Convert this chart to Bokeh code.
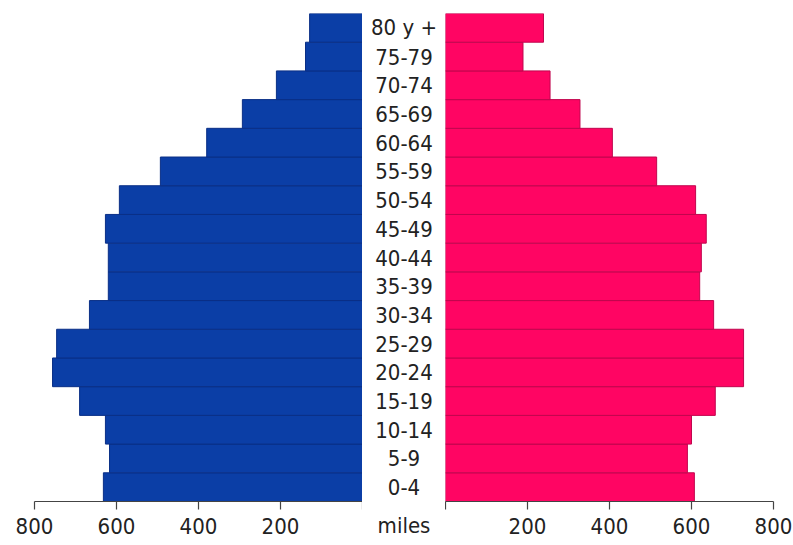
from bokeh.plotting import figure
from bokeh.layouts import row
from bokeh.models import Range1d, FactorRange, FixedTicker, ColumnDataSource
from bokeh.core.properties import value
from bokeh.embed import file_html
from bokeh.resources import INLINE

ages = ["0-4", "5-9", "10-14", "15-19", "20-24", "25-29", "30-34", "35-39",
        "40-44", "45-49", "50-54", "55-59", "60-64", "65-69", "70-74", "75-79", "80 y +"]
male = [632, 617, 627, 690, 756, 746, 666, 620, 620, 627, 593, 493, 380, 293, 210, 139, 129]
female = [607, 590, 600, 658, 727, 727, 654, 620, 624, 636, 610, 515, 407, 328, 255, 189, 239]
ticks = [0, 200, 400, 600, 800]
unit_label = "miles"

FONT = "DejaVu Sans Condensed"
FS = "22px"
H = 545
TOP = 13
BOTTOM = 44

src = ColumnDataSource(dict(age=ages, male=male, female=female))


def style_axis(p, standoff):
    ax = p.xaxis[0]
    ax.axis_line_color = "#444444"
    ax.axis_line_width = 1.2
    ax.major_tick_line_color = "#444444"
    ax.major_tick_line_width = 1.2
    ax.major_tick_out = 8
    ax.major_tick_in = 0
    ax.minor_tick_line_color = None
    ax.major_label_standoff = standoff
    ax.major_label_text_font = FONT
    ax.major_label_text_font_size = FS
    ax.major_label_text_color = "#222222"
    p.xgrid.visible = False
    p.ygrid.visible = False
    p.outline_line_color = None
    p.background_fill_color = "white"
    p.border_fill_color = "white"


left = figure(width=34 + 328, height=H, x_range=Range1d(800, 0),
              y_range=FactorRange(*ages, range_padding=0), y_axis_location=None,
              output_backend="svg", toolbar_location=None,
              min_border_left=34, min_border_right=0, min_border_top=TOP,
              min_border_bottom=BOTTOM)
left.hbar(y="age", right="male", left=0, height=1.0, source=src,
          fill_color="#0b3ea6", line_color="#0a2f86", line_width=1)
left.xaxis.ticker = FixedTicker(ticks=ticks)
left.xaxis.major_label_overrides = {0: ""}
style_axis(left, 8)

mid = figure(width=83, height=H, x_range=Range1d(0, 1),
             y_range=FactorRange(*ages, range_padding=0), y_axis_location=None,
             output_backend="svg", toolbar_location=None,
             min_border_left=0, min_border_right=0, min_border_top=TOP,
             min_border_bottom=BOTTOM)
mid.text(x=0.5, y="age", text="age", source=src, text_align="center",
         text_baseline="middle", text_font=value(FONT), text_font_size=FS,
         text_color="#222222")
mid.xaxis.ticker = FixedTicker(ticks=[0.5])
mid.xaxis.major_label_overrides = {0.5: unit_label}
style_axis(mid, 3)
mid.xaxis.axis_line_color = None
mid.xaxis.major_tick_line_color = None

right = figure(width=328 + 20, height=H, x_range=Range1d(0, 800),
               y_range=FactorRange(*ages, range_padding=0), y_axis_location=None,
               output_backend="svg", toolbar_location=None,
               min_border_left=0, min_border_right=20, min_border_top=TOP,
               min_border_bottom=BOTTOM)
right.hbar(y="age", right="female", left=0, height=1.0, source=src,
           fill_color="#ff0563", line_color="#c0064e", line_width=1)
right.xaxis.ticker = FixedTicker(ticks=ticks)
right.xaxis.major_label_overrides = {0: ""}
style_axis(right, 8)

layout = row(left, mid, right, spacing=0)
open("out.html", "w").write(file_html(layout, INLINE))
